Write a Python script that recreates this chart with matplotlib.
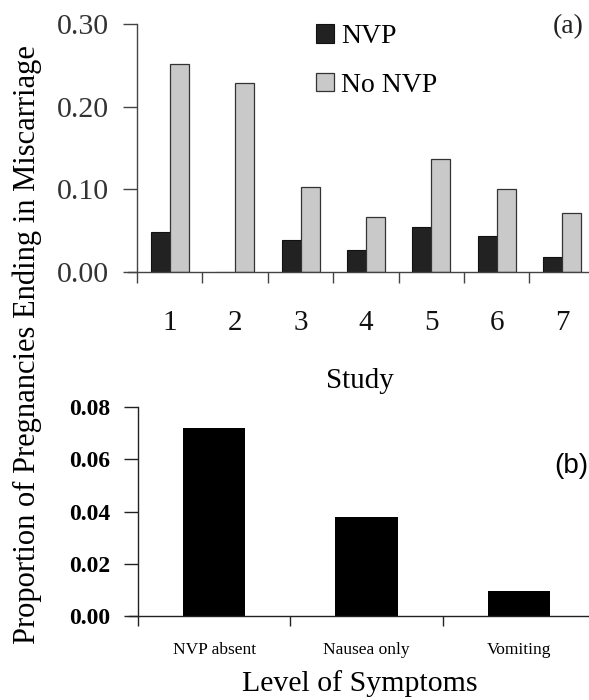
import numpy as np
import matplotlib
matplotlib.use('Agg')
import matplotlib.pyplot as plt

studies = ['1', '2', '3', '4', '5', '6', '7']
nvp = [0.048, 0.0, 0.039, 0.027, 0.054, 0.043, 0.018]
no_nvp = [0.252, 0.229, 0.103, 0.066, 0.137, 0.100, 0.071]

symptoms = ['NVP absent', 'Nausea only', 'Vomiting']
symptom_props = [0.072, 0.038, 0.0097]

plt.rcParams['font.family'] = ['Liberation Serif', 'DejaVu Serif']

fig = plt.figure(figsize=(5.89, 7.0), dpi=100)

# panel (a)
ax1 = fig.add_axes([128 / 589, 1 - 272 / 700, 1 - 128 / 589, 248 / 700])
x = np.arange(1, len(studies) + 1)
ax1.bar(x - 0.145, nvp, width=0.29, color='#222222', edgecolor='#111111', linewidth=0.8, label='NVP')
ax1.bar(x + 0.145, no_nvp, width=0.29, color='#c9c9c9', edgecolor='#333333', linewidth=0.9, label='No NVP')
ax1.set_xlim(0.362, 7.41)
ax1.set_ylim(0, 0.30)
ax1.spines['left'].set_position(('data', 0.5))
for s in ['top', 'right']:
    ax1.spines[s].set_visible(False)
for s in ['left', 'bottom']:
    ax1.spines[s].set_color('#444444')
    ax1.spines[s].set_linewidth(1.0)
ax1.set_yticks([0, 0.1, 0.2, 0.3])
ax1.set_yticklabels(['%.2f' % v for v in [0, 0.1, 0.2, 0.3]])
ax1.tick_params(axis='y', length=10, width=1.0, color='#444444', pad=10, labelsize=21.5, labelcolor='#333333')
ax1.set_xticks(x)
ax1.set_xticklabels(studies)
ax1.set_xticks(np.arange(0.5, 7.0, 1.0), minor=True)
ax1.tick_params(axis='x', which='major', length=0, pad=27, labelsize=21, labelcolor='#111111')
ax1.tick_params(axis='x', which='minor', length=8, width=1.0, color='#444444', direction='out')
ax1.legend(loc='upper left', bbox_to_anchor=(316 / 589, 1 - 24 / 700), bbox_transform=fig.transFigure,
           frameon=False, fontsize=20, handlelength=0.65, handleheight=0.65, handletextpad=0.25,
           labelspacing=0.85, borderpad=0, borderaxespad=0)
fig.text(568 / 589, 1 - 27 / 700, '(a)', fontsize=20, ha='center', va='center', color='#222222')
fig.text(360 / 589, 1 - 388 / 700, 'Study', fontsize=21, ha='center', va='baseline')

# panel (b)
ax2 = fig.add_axes([129 / 589, 1 - 616 / 700, 1 - 129 / 589, 209 / 700])
xb = np.arange(len(symptoms))
ax2.bar(xb, symptom_props, width=0.41, color='black')
ax2.set_xlim(-0.559, 2.461)
ax2.set_ylim(0, 0.08)
ax2.spines['left'].set_position(('data', -0.5))
for s in ['top', 'right']:
    ax2.spines[s].set_visible(False)
for s in ['left', 'bottom']:
    ax2.spines[s].set_color('#222222')
    ax2.spines[s].set_linewidth(1.0)
yt = [0, 0.02, 0.04, 0.06, 0.08]
ax2.set_yticks(yt)
ax2.set_yticklabels(['%.2f' % v for v in yt], fontweight='bold')
ax2.tick_params(axis='y', length=10, width=1.0, color='#222222', pad=10, labelsize=17)
ax2.set_xticks(xb)
ax2.set_xticklabels(symptoms)
ax2.set_xticks([-0.5, 0.5, 1.5], minor=True)
ax2.tick_params(axis='x', which='major', length=0, pad=19, labelsize=12.5)
ax2.tick_params(axis='x', which='minor', length=7, width=1.0, color='#222222', direction='out')
fig.text(571 / 589, 1 - 466 / 700, '(b)', fontsize=20, ha='center', va='center', family='Liberation Sans')
fig.text(360 / 589, 1 - 691 / 700, 'Level of Symptoms', fontsize=21.5, ha='center', va='baseline')

fig.text(27 / 589, 1 - 345 / 700, 'Proportion of Pregnancies Ending in Miscarriage', fontsize=22,
         rotation=90, ha='center', va='center')

fig.savefig('out.png', dpi=100)
